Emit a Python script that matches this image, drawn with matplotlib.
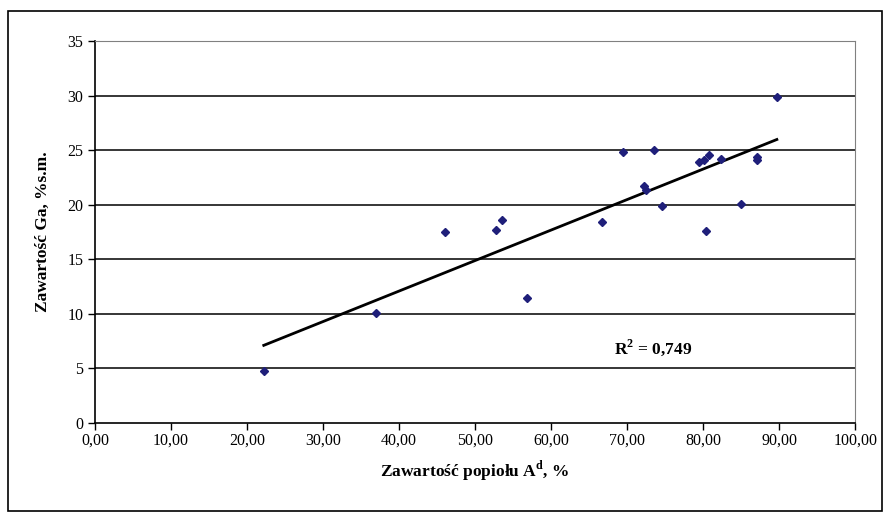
import numpy as np
import matplotlib
matplotlib.use('Agg')
import matplotlib.pyplot as plt
from matplotlib.patches import Rectangle

# ash content (x) and Ga content (y)
ash = [22.2, 36.9, 46.1, 52.7, 53.5, 56.8, 66.7, 69.4, 72.2, 72.5, 73.5, 74.6,
       79.5, 80.1, 80.8, 80.4, 82.4, 85.0, 87.1, 87.1, 89.7]
ga = [4.8, 10.1, 17.5, 17.7, 18.6, 11.5, 18.4, 24.8, 21.7, 21.4, 25.0, 19.9,
      23.9, 24.1, 24.6, 17.6, 24.2, 20.1, 24.4, 24.1, 29.9]

xticks = np.arange(0, 101, 10)
yticks = np.arange(0, 36, 5)
xlabels = ['%.2f' % v for v in xticks]
xlabels = [s.replace('.', ',') for s in xlabels]

plt.rcParams['font.family'] = ['Liberation Serif', 'DejaVu Serif']

fig = plt.figure(figsize=(8.88, 5.21), dpi=100)
ax = fig.add_axes([0.107, 0.188, 0.856, 0.733])

# horizontal grid lines
for v in yticks[1:-1]:
    ax.axhline(v, color='black', lw=1.1, zorder=1)
ax.axhline(35, color='#808080', lw=1.1, zorder=1)

ax.plot(ash, ga, 'D', color='#1F1F7A', ms=4.5, zorder=3)

# linear trend line
a, b = np.polyfit(ash, ga, 1)
xs = np.array([min(ash), max(ash)])
ax.plot(xs, a * xs + b, color='black', lw=2, zorder=2)

ax.text(68.3, 6.9, 'R$^\\mathregular{2}$ = 0,749', fontsize=12.5, fontweight='bold', va='center')

ax.set_xlim(0, 100)
ax.set_ylim(0, 35)
ax.set_xticks(xticks)
ax.set_xticklabels(xlabels, fontsize=11.5)
ax.set_yticks(yticks)
ax.set_yticklabels([str(v) for v in yticks], fontsize=11.5)
ax.tick_params(axis='both', direction='out', length=5, width=1, color='black')
ax.tick_params(axis='x', pad=2)

ax.spines['top'].set_color('#808080')
ax.spines['right'].set_color('#808080')
ax.spines['left'].set_linewidth(1.2)
ax.spines['bottom'].set_linewidth(1.2)

ax.set_xlabel('Zawartość popiołu A$^\\mathregular{d}$, %', fontsize=12.5, fontweight='bold', labelpad=7)
ax.set_ylabel('Zawartość Ga, %s.m.', fontsize=12.5, fontweight='bold', labelpad=12)

# outer frame
fig.patches.append(Rectangle((0.009, 0.02), 0.984, 0.958, transform=fig.transFigure,
                             fill=False, edgecolor='black', lw=1.2))

plt.savefig('out.png', dpi=100)
